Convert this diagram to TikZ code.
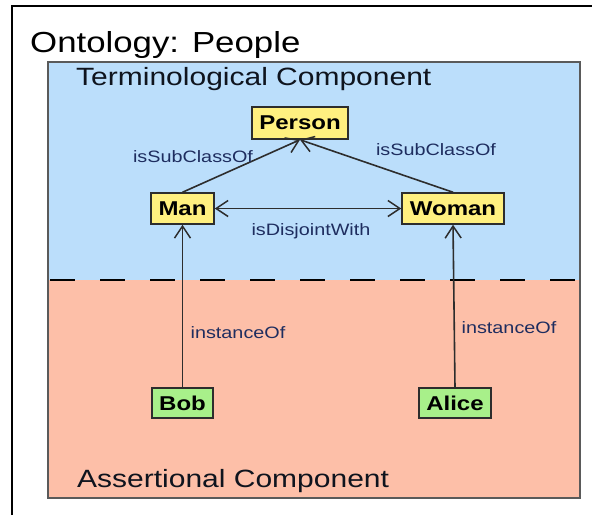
\documentclass[tikz,border=0pt]{standalone}
\usepackage{fontspec}
\setmainfont[FakeStretch=1.2]{Liberation Sans}
\usetikzlibrary{arrows.meta}
\definecolor{tblue}{RGB}{187,222,251}
\definecolor{asalmon}{RGB}{253,191,168}
\definecolor{cyellow}{RGB}{255,240,128}
\definecolor{igreen}{RGB}{168,240,138}
\definecolor{lblue}{RGB}{30,45,95}
\definecolor{edgegray}{RGB}{45,45,45}
\tikzset{
  classbox/.style={draw=edgegray, line width=1.5pt, fill=cyellow, inner sep=0pt, font=\fontsize{20}{24}\selectfont\bfseries},
  instbox/.style={draw=edgegray, line width=1.5pt, fill=igreen, inner sep=0pt, font=\fontsize{20}{24}\selectfont\bfseries},
  barb/.tip={Straight Barb[length=12pt,width=16pt,line width=1.5pt]},
  rel/.style={draw=edgegray, line width=1.6pt, -barb},
  rellabel/.style={text=lblue, inner sep=0pt, font=\fontsize{16.5}{19}\selectfont},
  title/.style={inner sep=0pt, anchor=base west}
}
\begin{document}
\begin{tikzpicture}[x=1pt,y=-1pt]
\useasboundingbox (0,0) rectangle (592,515);
% outer frame
\draw[line width=2.5pt, black] (12,515) -- (12,6) -- (592,6);
% regions
\fill[tblue] (48,62) rectangle (580,280);
\fill[asalmon] (48,280) rectangle (580,498);
\draw[line width=2.8pt, black, dash pattern=on 25pt off 25pt] (50,280) -- (580,280);
\draw[line width=2pt, draw={rgb,255:red,90;green,90;blue,90}] (48,62) rectangle (580,498);
% titles
\node[title, font=\fontsize{29}{34}\selectfont] (ont) at (30,52) {Ontology: People};
\node[title, font=\fontsize{25}{30}\selectfont, text={rgb,255:red,15;green,20;blue,30}] (term) at (76,85) {Terminological Component};
\node[title, font=\fontsize{25}{30}\selectfont, text={rgb,255:red,15;green,20;blue,30}] (assr) at (77,487) {Assertional Component};
% nodes
\node[classbox, minimum width=96pt, minimum height=32pt] (person) at (300,123) {Person};
\node[classbox, minimum width=63pt, minimum height=31pt] (man) at (182.5,208.5) {Man};
\node[classbox, minimum width=102pt, minimum height=31pt] (woman) at (453,208.5) {Woman};
\node[instbox, minimum width=61pt, minimum height=30pt] (bob) at (182.5,403) {Bob};
\node[instbox, minimum width=72pt, minimum height=30pt] (alice) at (455,403) {Alice};
% connectors
\draw[rel] (man.north) -- (person.south);
\draw[rel] (woman.north) -- (person.south);
\draw[rel, barb-barb] (man.east) -- (woman.west);
\draw[rel] (bob.north) -- (man.south);
\draw[rel] (alice.north) -- (woman.south);
% labels
\node[rellabel] (l1) at (193,157) {isSubClassOf};
\node[rellabel] (l2) at (436,150) {isSubClassOf};
\node[rellabel] (l3) at (311,231) {isDisjointWith};
\node[rellabel] (l4) at (238,333) {instanceOf};
\node[rellabel] (l5) at (509,328) {instanceOf};
\end{tikzpicture}
\end{document}
